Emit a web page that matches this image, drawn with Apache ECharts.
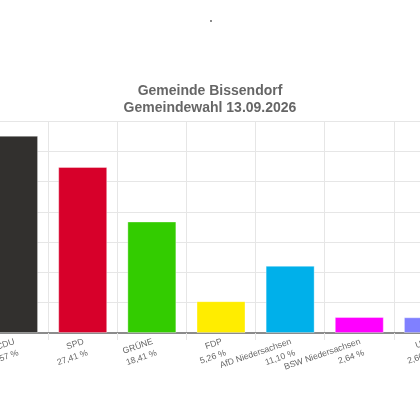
<!DOCTYPE html>
<html>
<head>
<meta charset="utf-8">
<script src="https://cdn.jsdelivr.net/npm/echarts@6/dist/echarts.min.js"></script>
<style>html,body{margin:0;padding:0;background:#fff}#c{width:420px;height:420px}</style>
</head>
<body>
<div id="c"></div>
<script>
const categories = ['CDU', 'SPD', 'GRÜNE', 'FDP', 'AfD Niedersachsen', 'BSW Niedersachsen', 'UW'];
const values = [32.57, 27.41, 18.41, 5.26, 11.10, 2.64, 2.60];
const colors = ['#32302e', '#d7002a', '#33cc00', '#ffed00', '#00b0ea', '#ff00ff', '#8080ff'];
const titleLines = ['Gemeinde Bissendorf', 'Gemeindewahl 13.09.2026'];

const fmt = v => v.toFixed(2).replace('.', ',') + ' %';
const chart = echarts.init(document.getElementById('c'), null, {renderer: 'canvas'});
chart.setOption({
  animation: false,
  backgroundColor: '#fff',
  title: {
    text: titleLines.join('\n'),
    left: 'center',
    top: 78,
    textStyle: {fontFamily: 'Liberation Sans, Arial, sans-serif', fontSize: 14, fontWeight: 'bold', color: '#666', lineHeight: 16.5}
  },
  graphic: [{type: 'circle', shape: {cx: 211, cy: 21, r: 0.9}, style: {fill: '#555'}}],
  grid: {left: -21, right: -43, top: 121, bottom: 87, containLabel: false, outerBoundsMode: 'none'},
  xAxis: {
    type: 'category',
    data: categories,
    axisLine: {lineStyle: {color: '#8c8c8c', width: 2}},
    axisTick: {show: true, length: 7, lineStyle: {color: '#e6e6e6'}},
    splitLine: {show: true, lineStyle: {color: '#e6e6e6'}},
    axisLabel: {
      interval: 0, rotate: 19, margin: 15, padding: [0, -3, 0, 0],
      fontFamily: 'Liberation Sans, Arial, sans-serif', fontSize: 8.7, color: '#666', lineHeight: 12,
      formatter: (name, idx) => name + '\n' + fmt(values[idx])
    }
  },
  yAxis: {
    type: 'value', min: 0, max: 35, interval: 5,
    axisLabel: {show: false}, axisLine: {show: false}, axisTick: {show: false},
    splitLine: {lineStyle: {color: '#e6e6e6'}}
  },
  series: [{
    type: 'bar',
    barWidth: 49,
    data: values.map((v, i) => ({value: v, itemStyle: {color: colors[i]}})),
    itemStyle: {borderColor: 'rgba(255,255,255,0.35)', borderWidth: 1}
  }]
});
</script>
</body>
</html>
